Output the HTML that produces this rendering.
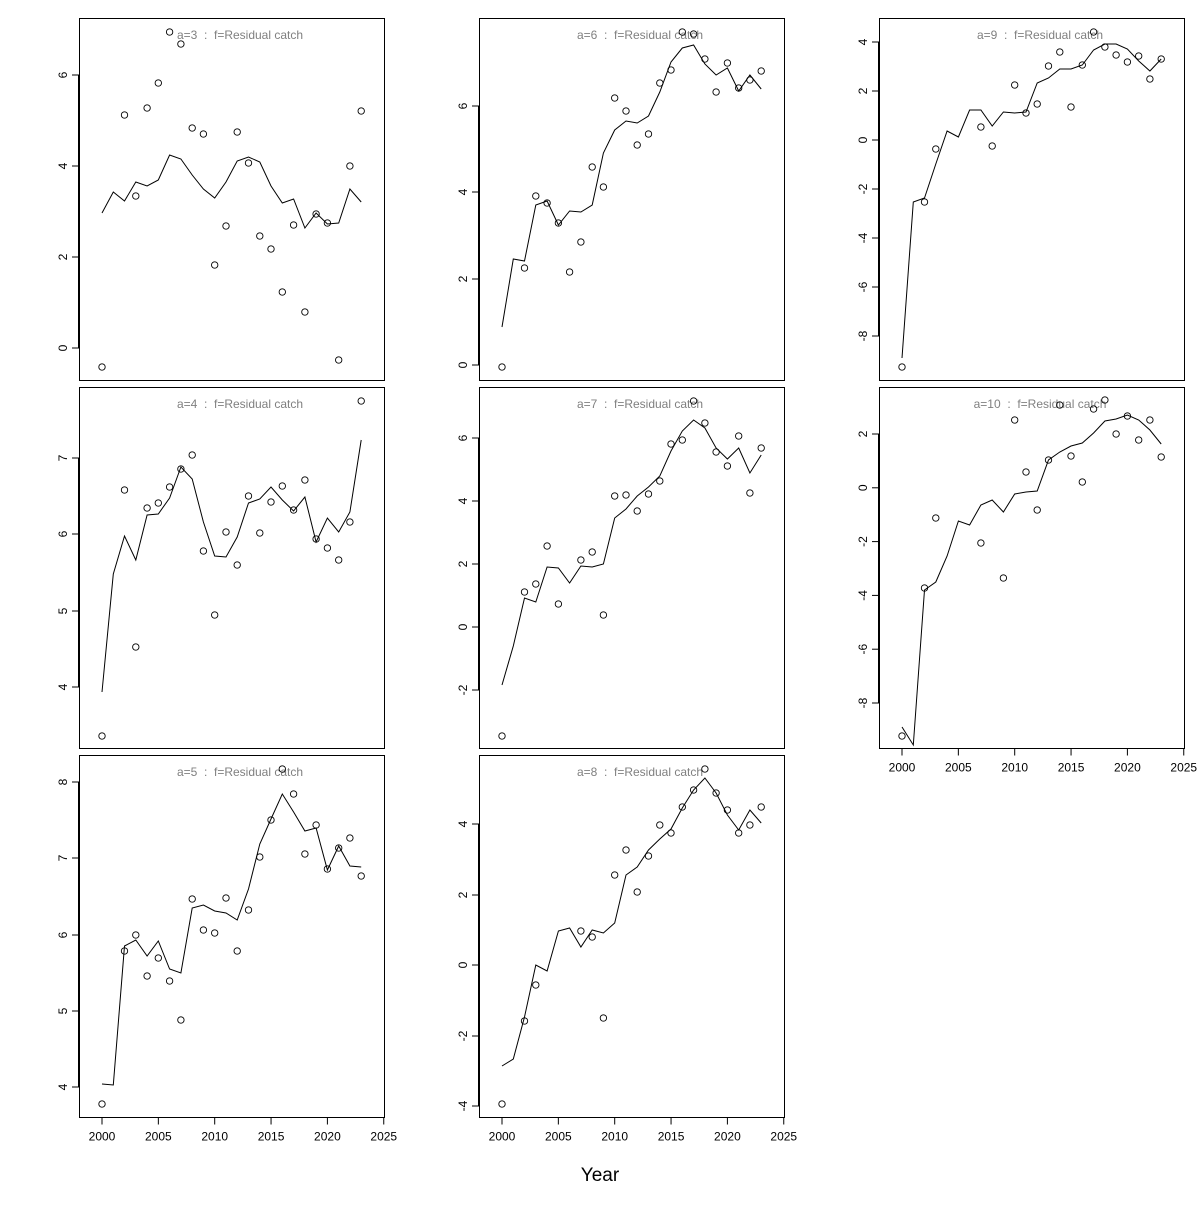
<!DOCTYPE html>
<html><head><meta charset="utf-8"><style>
html,body{margin:0;padding:0;background:#fff}
svg text{font-family:"Liberation Sans",Arial,sans-serif;white-space:pre}
</style></head><body>
<svg id="s" width="1200" height="1200" xmlns="http://www.w3.org/2000/svg"></svg>
<script>
const S=document.getElementById('s');let h='';
const cols=[79,479,879], rows=[[18,380],[387,748],[755,1117]];
function X(c,yr){return cols[c]+23+11.27*(yr-2000);}
const P=[
{c:0,r:0,t:'a=3',ticks:[[0,348],[2,257],[4,166],[6,75]],
 pts:{2000:367,2002:115,2003:196,2004:108,2005:83,2006:32,2007:44,2008:128,2009:134,2010:265,2011:226,2012:132,2013:163,2014:236,2015:249,2016:292,2017:225,2018:312,2019:214,2020:223,2021:360,2022:166,2023:111},
 line:[213,192,201,182,186,180,155,159,175,189,198,182,161,157,162,186,203,199,228,213,224,223,189,202]},
{c:1,r:0,t:'a=6',ticks:[[0,365],[2,279],[4,192],[6,106]],
 pts:{2000:367,2002:268,2003:196,2004:203,2005:223,2006:272,2007:242,2008:167,2009:187,2010:98,2011:111,2012:145,2013:134,2014:83,2015:70,2016:32,2017:34,2018:59,2019:92,2020:63,2021:88,2022:80,2023:71},
 line:[327,259,261,205,201,225,211,212,205,153,130,121,123,116,92,62,48,45,64,75,68,91,75,89]},
{c:2,r:0,t:'a=9',ticks:[0,1,2,3,4,5,6].map(i=>[4-2*i,42+49*i]),
 pts:{2000:367,2002:202,2003:149,2007:127,2008:146,2010:85,2011:113,2012:104,2013:66,2014:52,2015:107,2016:65,2017:32,2018:47,2019:55,2020:62,2021:56,2022:79,2023:59},
 line:[358,202,198,164,131,137,110,110,126,112,113,112,83,78,69,69,65,50,44,44,49,61,71,59]},
{c:0,r:1,t:'a=4',ticks:[[4,687],[5,611],[6,534],[7,458]],
 pts:{2000:736,2002:490,2003:647,2004:508,2005:503,2006:487,2007:469,2008:455,2009:551,2010:615,2011:532,2012:565,2013:496,2014:533,2015:502,2016:486,2017:510,2018:480,2019:539,2020:548,2021:560,2022:522,2023:401},
 line:[692,574,536,560,515,514,498,467,479,522,556,557,537,503,499,487,500,511,497,542,518,532,512,440]},
{c:1,r:1,t:'a=7',ticks:[[-2,690],[0,627],[2,564],[4,501],[6,438]],
 pts:{2000:736,2002:592,2003:584,2004:546,2005:604,2007:560,2008:552,2009:615,2010:496,2011:495,2012:511,2013:494,2014:481,2015:444,2016:440,2017:401,2018:423,2019:452,2020:466,2021:436,2022:493,2023:448},
 line:[685,646,598,602,567,568,583,566,567,564,518,509,496,487,476,451,431,420,428,448,459,448,473,455]},
{c:2,r:1,t:'a=10',ticks:[0,1,2,3,4,5].map(i=>[2-2*i,434+53.8*i]),
 pts:{2000:736,2002:588,2003:518,2007:543,2009:578,2010:420,2011:472,2012:510,2013:460,2014:405,2015:456,2016:482,2017:409,2018:400,2019:434,2020:416,2021:440,2022:420,2023:457},
 line:[727,745,590,582,556,521,525,505,500,512,494,492,491,460,452,446,443,433,421,419,415,420,430,444]},
{c:0,r:2,t:'a=5',ticks:[[4,1087],[5,1011],[6,935],[7,858],[8,782]],
 pts:{2000:1104,2002:951,2003:935,2004:976,2005:958,2006:981,2007:1020,2008:899,2009:930,2010:933,2011:898,2012:951,2013:910,2014:857,2015:820,2016:769,2017:794,2018:854,2019:825,2020:869,2021:848,2022:838,2023:876},
 line:[1084,1085,946,940,956,941,969,973,908,905,911,913,920,889,844,819,794,812,831,828,870,846,866,867]},
{c:1,r:2,t:'a=8',ticks:[[-4,1106],[-2,1036],[0,965],[2,895],[4,824]],
 pts:{2000:1104,2002:1021,2003:985,2007:931,2008:937,2009:1018,2010:875,2011:850,2012:892,2013:856,2014:825,2015:833,2016:807,2017:790,2018:769,2019:793,2020:810,2021:833,2022:825,2023:807},
 line:[1066,1059,1017,965,971,931,928,947,930,933,923,875,867,850,839,829,808,790,778,793,815,830,810,823]}
];
for(const p of P){
 const x0=cols[p.c],[y0,y1]=rows[p.r];
 h+=`<rect x="${x0}.5" y="${y0}.5" width="305" height="${y1-y0}" fill="none" stroke="#000" stroke-width="1"/>`;
 h+=`<text x="${x0+161}" y="${y0+21}" font-size="12" fill="#808080" text-anchor="middle" xml:space="preserve">${p.t}\u00a0\u00a0:\u00a0\u00a0f=Residual catch</text>`;
 const ys=p.ticks.map(t=>t[1]);
 h+=`<line x1="${x0-0.5}" x2="${x0-0.5}" y1="${Math.min(...ys)}" y2="${Math.max(...ys)}" stroke="#000"/>`;
 for(const [v,y] of p.ticks){
  h+=`<line x1="${x0-7}" x2="${x0}" y1="${y}" y2="${y}" stroke="#000"/>`;
  h+=`<text transform="translate(${x0-12},${y}) rotate(-90)" font-size="12" text-anchor="middle">${v}</text>`;
 }
 let d='';p.line.forEach((y,i)=>{d+=(i?'L':'M')+X(p.c,2000+i).toFixed(1)+' '+y;});
 h+=`<path d="${d}" fill="none" stroke="#000" stroke-width="1"/>`;
 for(const k in p.pts) h+=`<circle cx="${X(p.c,+k).toFixed(1)}" cy="${p.pts[k]}" r="3.2" fill="none" stroke="#000" stroke-width="0.9"/>`;
 if(p.r==2||(p.c==2&&p.r==1)){
  const yb=y1+0.5;
  h+=`<line x1="${X(p.c,2000)}" x2="${X(p.c,2025)}" y1="${yb}" y2="${yb}" stroke="#000"/>`;
  for(let yr=2000;yr<=2025;yr+=5){
   const x=X(p.c,yr);
   h+=`<line x1="${x}" x2="${x}" y1="${yb}" y2="${yb+7}" stroke="#000"/>`;
   h+=`<text x="${x}" y="${yb+23}" font-size="12" text-anchor="middle">${yr}</text>`;
  }
 }
}
h+=`<text x="600" y="1181" font-size="19" text-anchor="middle">Year</text>`;
S.innerHTML=h;
</script>
</body></html>
